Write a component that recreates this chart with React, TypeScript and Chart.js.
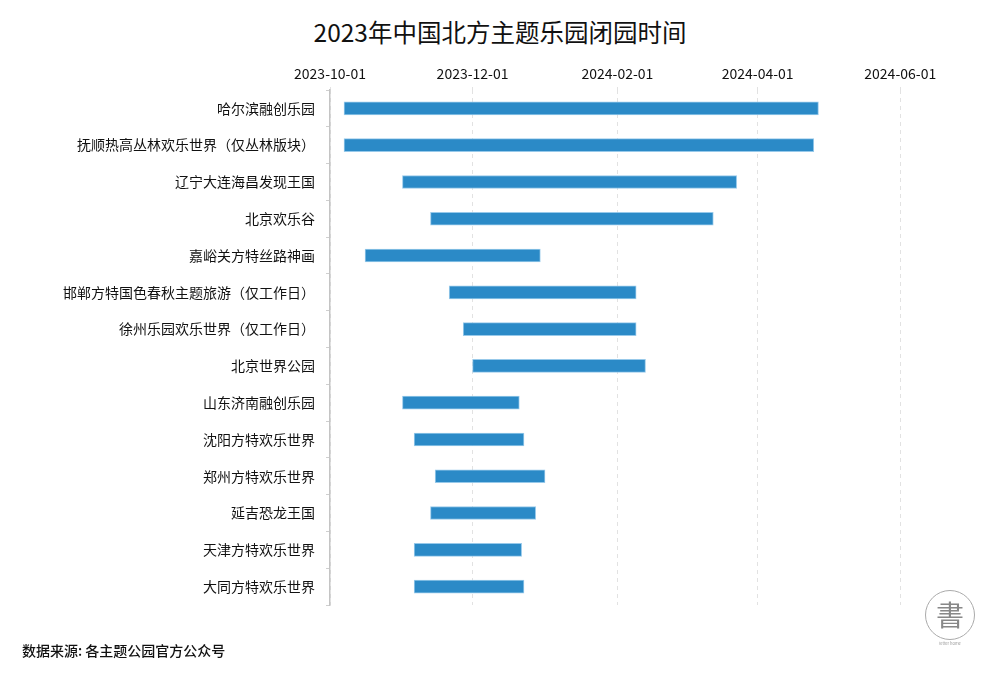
import React, { useEffect, useRef } from "react";
import { Chart, registerables } from "chart.js";

Chart.register(...registerables);

const parks = [
  "哈尔滨融创乐园",
  "抚顺热高丛林欢乐世界（仅丛林版块）",
  "辽宁大连海昌发现王国",
  "北京欢乐谷",
  "嘉峪关方特丝路神画",
  "邯郸方特国色春秋主题旅游（仅工作日）",
  "徐州乐园欢乐世界（仅工作日）",
  "北京世界公园",
  "山东济南融创乐园",
  "沈阳方特欢乐世界",
  "郑州方特欢乐世界",
  "延吉恐龙王国",
  "天津方特欢乐世界",
  "大同方特欢乐世界",
];

const closeStart = [
  "2023-10-07",
  "2023-10-07",
  "2023-11-01",
  "2023-11-13",
  "2023-10-16",
  "2023-11-21",
  "2023-11-27",
  "2023-12-01",
  "2023-11-01",
  "2023-11-06",
  "2023-11-15",
  "2023-11-13",
  "2023-11-06",
  "2023-11-06",
];

const closeEnd = [
  "2024-04-27",
  "2024-04-25",
  "2024-03-23",
  "2024-03-13",
  "2023-12-30",
  "2024-02-09",
  "2024-02-09",
  "2024-02-13",
  "2023-12-21",
  "2023-12-23",
  "2024-01-01",
  "2023-12-28",
  "2023-12-22",
  "2023-12-23",
];

const tickDates = ["2023-10-01", "2023-12-01", "2024-02-01", "2024-04-01", "2024-06-01"];
const axisStart = "2023-10-01";
const axisEnd = "2024-06-27";

const toMs = (s: string) => Date.parse(s + "T00:00:00Z");
const fmt = (v: number) => new Date(v).toISOString().slice(0, 10);

const FONT = "'Noto Sans CJK SC', 'Noto Sans', sans-serif";

export default function App() {
  const ref = useRef<HTMLCanvasElement | null>(null);

  useEffect(() => {
    document.body.style.margin = "0";
    const ctx = ref.current!.getContext("2d")!;
    const chart = new Chart(ctx, {
      type: "bar",
      data: {
        labels: parks,
        datasets: [
          {
            data: closeStart.map((s, i) => [toMs(s), toMs(closeEnd[i])]) as any,
            backgroundColor: "#2b8ac7",
            borderColor: "rgba(140,195,232,0.9)",
            borderWidth: 1,
            borderSkipped: false,
            barThickness: 13,
          },
        ],
      },
      options: {
        indexAxis: "y",
        animation: false,
        responsive: false,
        maintainAspectRatio: false,
        layout: { padding: { top: 0, left: 0, right: 39, bottom: 71 } },
        plugins: {
          legend: { display: false },
          tooltip: { enabled: false },
          title: { display: false },
        },
        scales: {
          x: {
            type: "linear",
            position: "top",
            min: toMs(axisStart),
            max: toMs(axisEnd),
            afterFit: (scale: any) => {
              scale.height = 90;
            },
            afterBuildTicks: (scale: any) => {
              scale.ticks = tickDates.map((d) => ({ value: toMs(d) }));
            },
            grid: {
              color: "#e2e2e2",
              lineWidth: 1,
              tickLength: 3,
              drawTicks: true,
            },
            border: { display: false, dash: [4, 4] },
            ticks: {
              autoSkip: false,
              maxRotation: 0,
              padding: 5,
              color: "#111",
              font: { family: FONT, size: 14 },
              callback: (v: any) => fmt(Number(v)),
            },
          },
          y: {
            type: "category",
            afterFit: (scale: any) => {
              scale.width = 330;
            },
            grid: {
              drawOnChartArea: false,
              drawTicks: true,
              tickLength: 4,
              color: "#cfcfcf",
            },
            border: { display: true, color: "#c4c4c4", width: 1.5 },
            ticks: {
              padding: 11,
              color: "#111",
              font: { family: FONT, size: 14 },
            },
          },
        },
      },
    });
    return () => chart.destroy();
  }, []);

  return (
    <div
      style={{
        position: "absolute",
        left: 0,
        top: 0,
        width: 1000,
        height: 676,
        background: "#fff",
        fontFamily: FONT,
        overflow: "hidden",
      }}
    >
      <div
        style={{
          position: "absolute",
          left: 0,
          width: 1000,
          top: 15,
          textAlign: "center",
          fontSize: 24.5,
          fontWeight: 400,
          color: "#111",
          lineHeight: "34px",
        }}
      >
        2023年中国北方主题乐园闭园时间
      </div>
      <canvas ref={ref} width={1000} height={676} style={{ position: "absolute", left: 0, top: 0 }} />
      <div
        style={{
          position: "absolute",
          left: 22,
          top: 640,
          fontSize: 14,
          fontWeight: 500,
          color: "#111",
          lineHeight: "20px",
        }}
      >
        数据来源: 各主题公园官方公众号
      </div>
      <div
        style={{
          position: "absolute",
          left: 925,
          top: 590,
          width: 48,
          height: 48,
          borderRadius: "50%",
          border: "1px solid #aaa",
          color: "#888",
          textAlign: "center",
          fontSize: 28,
          lineHeight: "46px",
        }}
      >
        書
      </div>
      <div
        style={{
          position: "absolute",
          left: 925,
          top: 640,
          width: 50,
          textAlign: "center",
          fontSize: 4,
          color: "#999",
        }}
      >
        letter home
      </div>
    </div>
  );
}
